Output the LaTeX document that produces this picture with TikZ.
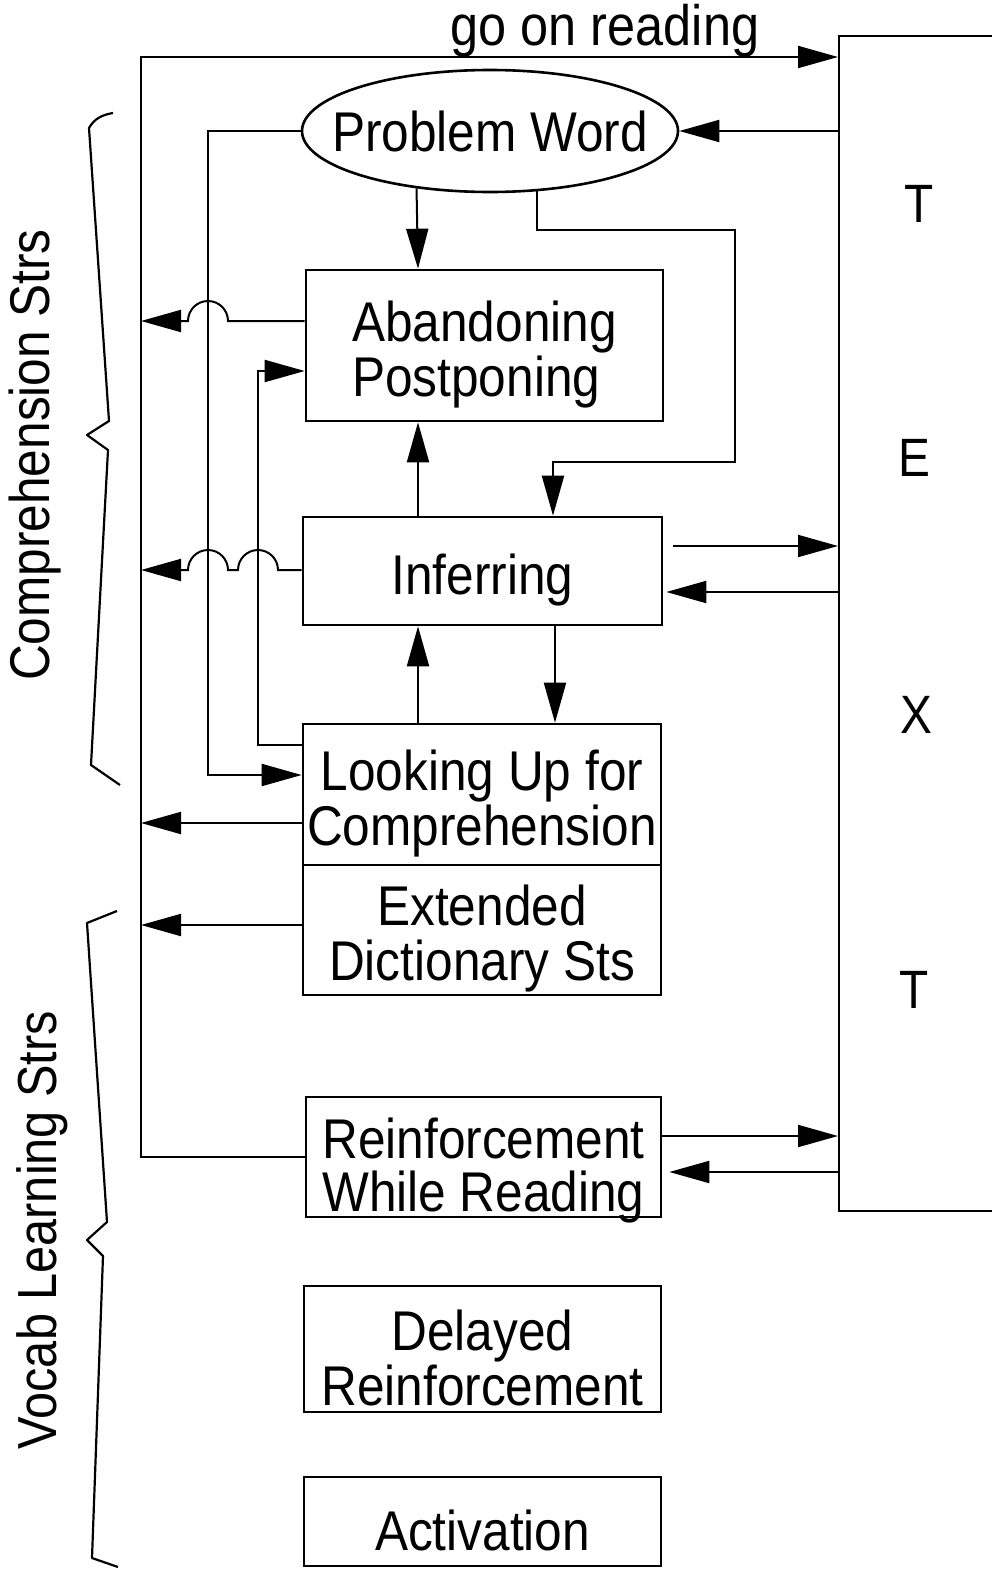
\documentclass[tikz,border=0pt]{standalone}
\usepackage{fontspec}
\setmainfont[FakeStretch=0.885]{Liberation Sans}
\usetikzlibrary{arrows.meta,shapes.geometric,calc}
\begin{document}
\begin{tikzpicture}[x=1pt,y=1pt,
  every node/.style={font=\fontsize{56}{55}\selectfont, inner sep=0pt},
  box/.style={draw, line width=2.6pt},
  btext/.style={align=center, yshift=-9pt},
  conn/.style={line width=2pt},
  arr/.style={conn, -{Triangle[length=40pt,width=22pt]}},
  brace/.style={line width=2.2pt, line join=round},
  tletter/.style={font=\fontsize{54}{54}\selectfont},
  sidelabel/.style={rotate=90}
]
\useasboundingbox (0,0) rectangle (992,-1574);
\fill[white] (0,0) rectangle (992,-1574);

% nodes
\node[draw, ellipse, line width=2.6pt, minimum width=376pt, minimum height=122pt,
      label={center:Problem Word}] (pw) at (490,-131) {};
\node[box, minimum width=357pt, minimum height=151pt,
      label={[btext, align=left]center:Abandoning\\Postponing}] (ab) at (484.5,-345.5) {};
\node[box, minimum width=359pt, minimum height=108pt,
      label={[btext]center:Inferring}] (inf) at (482.5,-571) {};
\node[box, minimum width=358pt, minimum height=141pt,
      label={[btext]center:Looking Up for\\Comprehension}] (look) at (482,-794.5) {};
\node[box, minimum width=358pt, minimum height=130pt,
      label={[btext]center:Extended\\Dictionary Sts}] (ext) at (482,-930) {};
\node[box, minimum width=355pt, minimum height=120pt,
      label={[btext, yshift=-5pt, font=\fontsize{56}{53}\selectfont]center:Reinforcement\\While Reading}] (reinf) at (483.5,-1157) {};
\node[box, minimum width=357pt, minimum height=126pt,
      label={[btext]center:Delayed\\Reinforcement}] (delay) at (482.5,-1349) {};
\node[box, minimum width=357pt, minimum height=89pt,
      label={[btext]center:Activation}] (act) at (482.5,-1521.5) {};

% TEXT box
\node[draw, line width=2pt, minimum width=300pt, minimum height=1175pt, anchor=north west] (text) at (838,-35) {};
\node[tletter] (t1) at (919,-204) {T};
\node[tletter] (t2) at (914,-458) {E};
\node[tletter] (t3) at (916,-715) {X};
\node[tletter] (t4) at (914,-990) {T};

\coordinate (L) at (141,0);

% go on reading loop
\draw[arr] (reinf.west) -| (L |- 0,-57) -- (text.west |- 0,-57);
\node[font=\fontsize{57}{57}\selectfont, anchor=base] (gor) at (605,-45) {go on reading};

% text -> problem word
\draw[arr] (text.west |- 0,-131) -- (pw.east);

% problem word -> abandoning
\draw[arr] (pw.218) -- (ab.north -| 418,0);
% problem word -> inferring
\draw[arr] (pw.308) |- (735,-230) |- (553,-462) -- (inf.north -| 553,0);
% problem word -> looking up
\draw[arr] (pw.west) -| (208,-775) -- (look.west |- 0,-775);
% looking up -> abandoning
\draw[arr] (look.west |- 0,-745) -| (258,-371) -- (ab.west |- 0,-371);

% abandoning -> left line (hop)
\draw[arr] (ab.west |- 0,-321) -- (228,-321) arc[start angle=0,end angle=180,radius=20pt] -- (L |- 0,-321);
% inferring -> left line (two hops)
\draw[arr] (inf.west |- 0,-570) -- (278,-570) arc[start angle=0,end angle=180,radius=20pt] -- (228,-570) arc[start angle=0,end angle=180,radius=20pt] -- (L |- 0,-570);
% looking up / extended -> left line
\draw[arr] (look.west |- 0,-823) -- (L |- 0,-823);
\draw[arr] (ext.west |- 0,-925) -- (L |- 0,-925);

% vertical links
\draw[arr] (inf.north -| 418,0) -- (ab.south -| 418,0);
\draw[arr] (look.north -| 418,0) -- (inf.south -| 418,0);
\draw[arr] (inf.south -| 555,0) -- (look.north -| 555,0);

% inferring <-> text
\draw[arr] ($(inf.east |- 0,-546)+(10,0)$) -- (text.west |- 0,-546);
\draw[arr] (text.west |- 0,-592) -- ($(inf.east |- 0,-592)+(3,0)$);
% reinforcement <-> text
\draw[arr] (reinf.east |- 0,-1136) -- (text.west |- 0,-1136);
\draw[arr] (text.west |- 0,-1172) -- ($(reinf.east |- 0,-1172)+(7,0)$);

% braces
\draw[brace] (113,-113) to[out=190,in=60] (89,-128) -- (109,-421) -- (87,-435) -- (108,-450) -- (91,-765) -- (120,-785);
\draw[brace] (117,-911) -- (87,-923) -- (107,-1222) -- (87,-1240) -- (103,-1256) -- (92,-1558) -- (118,-1567);

% side labels
\node[sidelabel] (comp) at (35,-455) {Comprehension Strs};
\node[sidelabel, font=\fontsize{55}{55}\selectfont] (vocab) at (42,-1230) {Vocab Learning Strs};
\end{tikzpicture}
\end{document}
